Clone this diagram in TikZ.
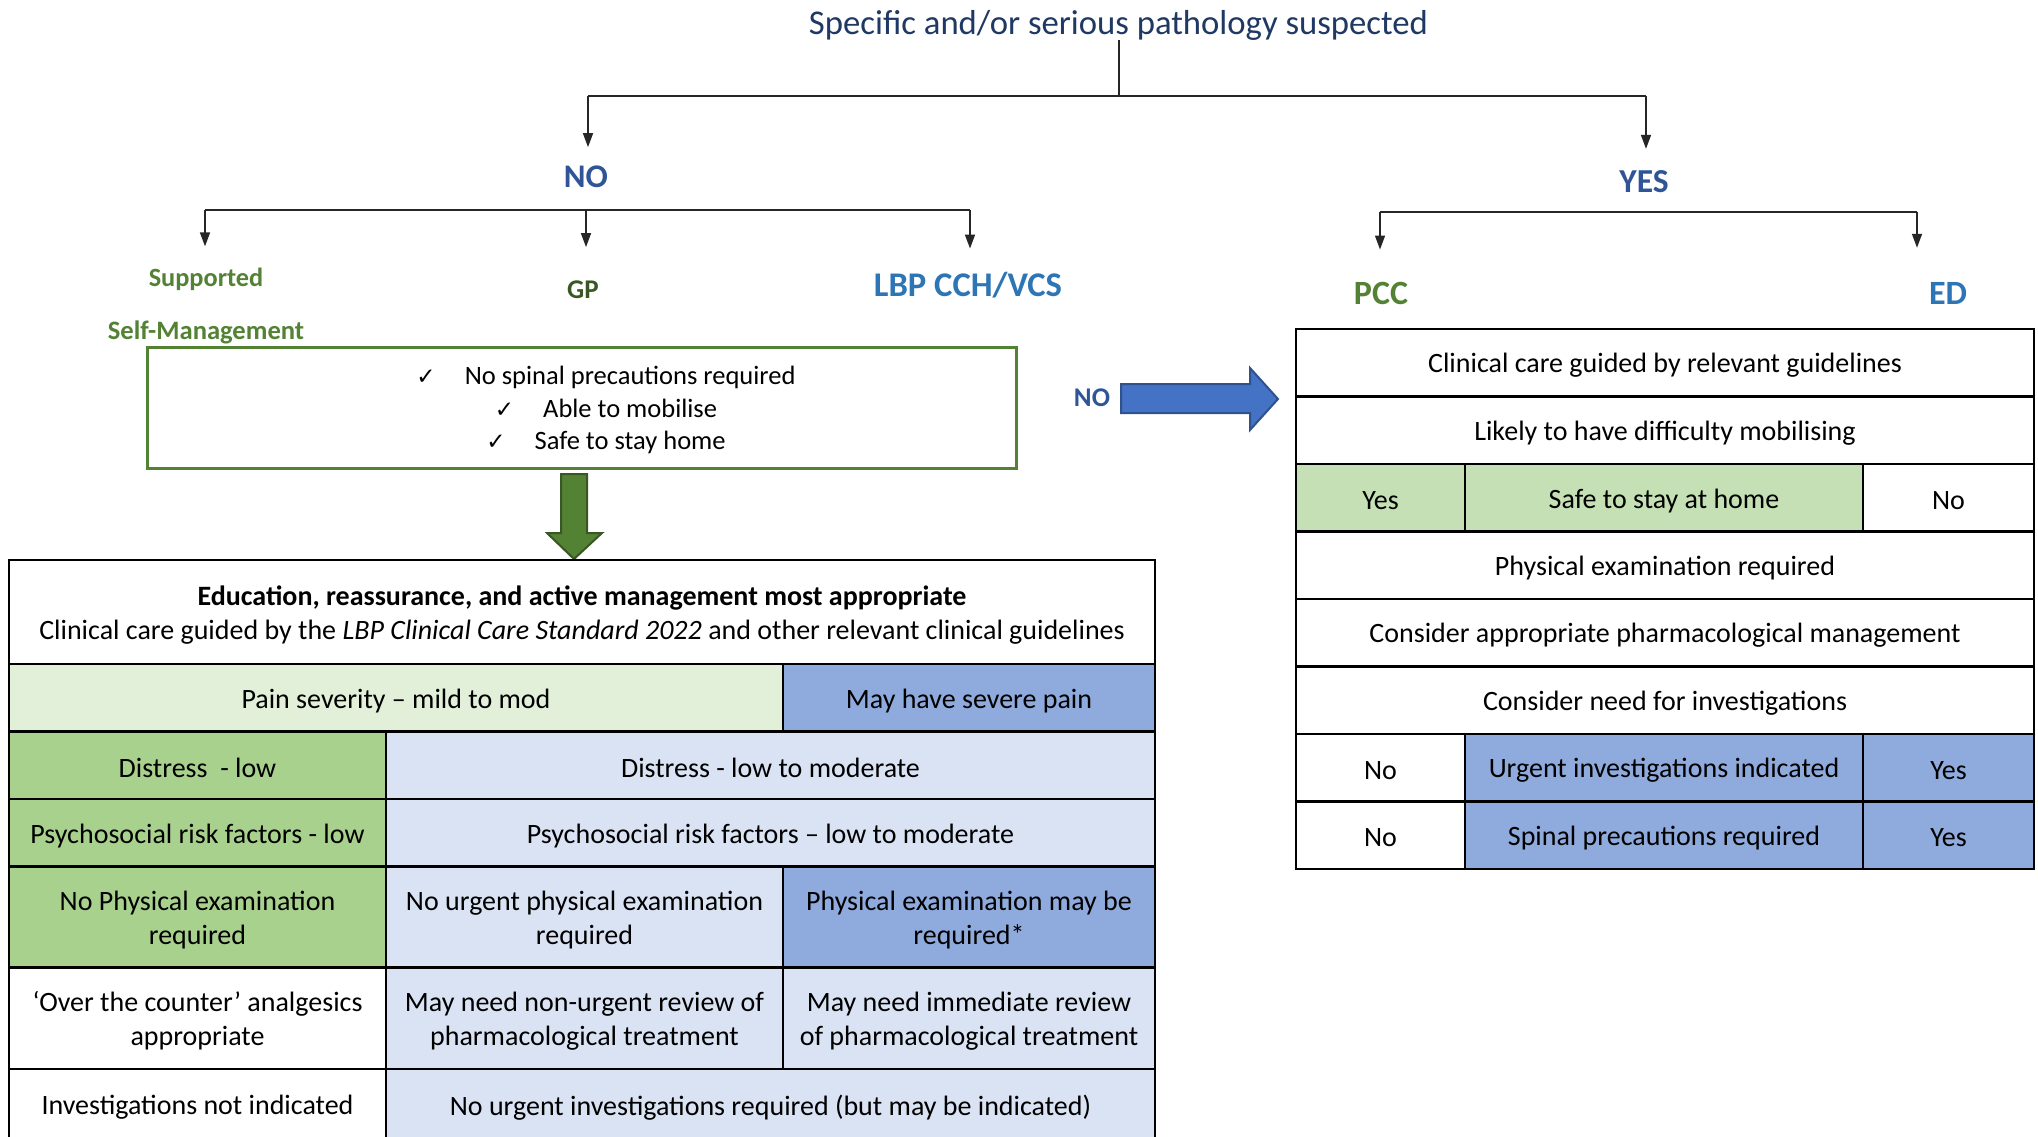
\documentclass[tikz,border=0pt]{standalone}
\usepackage{fontspec}
\setmainfont{Carlito}
\newfontfamily\symfont{DejaVu Sans}
\usetikzlibrary{arrows.meta}

\definecolor{titleblue}{HTML}{1F3864}
\definecolor{noblue}{HTML}{2F5597}
\definecolor{ltblue}{HTML}{2E75B6}
\definecolor{lblgreen}{HTML}{548235}
\definecolor{gpgreen}{HTML}{385723}
\definecolor{palegreen}{HTML}{E2EFD9}
\definecolor{midgreen}{HTML}{A9D18E}
\definecolor{rgreen}{HTML}{C5E0B4}
\definecolor{paleblue}{HTML}{DAE3F3}
\definecolor{midblue}{HTML}{8FAADC}
\definecolor{arrowblue}{HTML}{4472C4}
\definecolor{arrowblueedge}{HTML}{2F528F}
\definecolor{arrowgreenedge}{HTML}{385723}

\newcommand\fs[2]{\fontsize{#1pt}{#2pt}\selectfont}
\newcommand\mycell[7]{%
  \node[cellbox, fill=#6, minimum width={#4-#2}, minimum height={#5-#3}] (#1) at ({(#2+#4)/2},{(#3+#5)/2}) {};
  \node[celltext] (#1t) at ([yshift=-2.8pt]#1.center) {#7};}

\begin{document}
\begin{tikzpicture}[x=1pt,y=-1pt,
  cellbox/.style={draw=black, line width=2.6pt, inner sep=0pt},
  celltext/.style={inner sep=0pt, align=center, font=\fs{28}{34}},
  lbl/.style={inner sep=0pt, anchor=base},
  conn/.style={line width=1.6pt, draw=black!85},
  arr/.style={conn, -{Triangle[length=14pt,width=10pt]}},
  chkline/.style={inner sep=0pt, anchor=base, font=\fs{26.5}{32}},
  blockarrow/.style={line width=2pt, line join=miter}
]
\useasboundingbox (0,0) rectangle (2038,1136);
\fill[white] (0,0) rectangle (2038,1136);

% ---------- labels ----------
\node[lbl, font=\fs{34.7}{40}, text=titleblue] (title) at (1118.5,34) {Specific and/or serious pathology suspected};
\node[lbl, font=\fs{33}{40}\bfseries, text=noblue] (no) at (586,187) {NO};
\node[lbl, font=\fs{33.5}{40}\bfseries, text=noblue] (yes) at (1644,192) {YES};
\node[lbl, font=\fs{26.3}{32}\bfseries, text=lblgreen] (sup) at (206,286) {Supported};
\node[lbl, font=\fs{26.6}{32}\bfseries, text=lblgreen] (selfm) at (206,339) {Self-Management};
\node[lbl, font=\fs{27}{32}\bfseries, text=gpgreen] (gp) at (583,298) {GP};
\node[lbl, font=\fs{34.6}{40}\bfseries, text=ltblue] (lbp) at (968,296) {LBP CCH/VCS};
\node[lbl, font=\fs{34}{40}\bfseries, text=lblgreen] (pcc) at (1381,304) {PCC};
\node[lbl, font=\fs{34}{40}\bfseries, text=ltblue] (ed) at (1948,304) {ED};
\node[lbl, font=\fs{27}{32}\bfseries, text=noblue] (noarr) at (1092,406) {NO};

% ---------- tree connectors ----------
\coordinate (s1) at (1119,96);
\coordinate (sL) at (588,96);
\coordinate (sR) at (1646,96);
\draw[conn] (title.south -| s1) -- (s1);
\draw[conn] (sL) -- (sR);
\draw[arr, shorten >=18pt] (sL) -- (sL |- no.north);
\draw[arr, shorten >=21pt] (sR) -- (sR |- yes.north);

\coordinate (n1) at (205,210);
\coordinate (n2) at (586,210);
\coordinate (n3) at (970,210);
\draw[conn] (n1) -- (n3);
\draw[arr, shorten >=21pt] (n1) -- (n1 |- sup.north);
\draw[arr, shorten >=33pt] (n2) -- (n2 |- gp.north);
\draw[arr, shorten >=23pt] (n3) -- (n3 |- lbp.north);

\coordinate (y1) at (1380,212);
\coordinate (y2) at (1917,212);
\draw[conn] (y1) -- (y2);
\draw[arr, shorten >=32pt] (y1) -- (y1 |- pcc.north);
\draw[arr, shorten >=34pt] (y2) -- (y2 |- ed.north);

% ---------- self-management box ----------
\node[draw=lblgreen, line width=3pt, minimum width=869, minimum height=121, inner sep=0pt] (smbox) at (581.5,407.5) {};
\node[chkline] (chk1) at (606,384) {{\symfont\fs{23}{26}✓}\hspace{29pt}No spinal precautions required};
\node[chkline] (chk2) at (606,417) {{\symfont\fs{23}{26}✓}\hspace{29pt}Able to mobilise};
\node[chkline] (chk3) at (606,449) {{\symfont\fs{23}{26}✓}\hspace{29pt}Safe to stay home};

% ---------- block arrows ----------
\draw[blockarrow, fill=lblgreen, draw=arrowgreenedge]
  (561,474) -- (587,474) -- (587,533) -- (602,533) -- (574,559) -- (547,533) -- (561,533) -- cycle;
\draw[blockarrow, fill=arrowblue, draw=arrowblueedge]
  (1121,384) -- (1250,384) -- (1250,368) -- (1278,399) -- (1250,430) -- (1250,413) -- (1121,413) -- cycle;

% ---------- left table ----------
\mycell{lh}{9}{560}{1155}{664}{white}{{\bfseries Education, reassurance, and active management most appropriate}\\Clinical care guided by the \textit{LBP Clinical Care Standard 2022} and other relevant clinical guidelines}
\mycell{la1}{9}{664}{783}{731.5}{palegreen}{Pain severity – mild to mod}
\mycell{la2}{783}{664}{1155}{731.5}{midblue}{May have severe pain}
\mycell{lb1}{9}{731.5}{386}{799}{midgreen}{Distress~ - low}
\mycell{lb2}{386}{731.5}{1155}{799}{paleblue}{Distress - low to moderate}
\mycell{lc1}{9}{799}{386}{866.5}{midgreen}{Psychosocial risk factors - low}
\mycell{lc2}{386}{799}{1155}{866.5}{paleblue}{Psychosocial risk factors – low to moderate}
\mycell{ld1}{9}{866.5}{386}{967.5}{midgreen}{No Physical examination\\required}
\mycell{ld2}{386}{866.5}{783}{967.5}{paleblue}{No urgent physical examination\\required}
\mycell{ld3}{783}{866.5}{1155}{967.5}{midblue}{Physical examination may be\\required*}
\mycell{le1}{9}{967.5}{386}{1069}{white}{‘Over the counter’ analgesics\\appropriate}
\mycell{le2}{386}{967.5}{783}{1069}{paleblue}{May need non-urgent review of\\pharmacological treatment}
\mycell{le3}{783}{967.5}{1155}{1069}{paleblue}{May need immediate review\\of pharmacological treatment}
\mycell{lf1}{9}{1069}{386}{1140}{white}{Investigations not indicated}
\mycell{lf2}{386}{1069}{1155}{1140}{paleblue}{No urgent investigations required (but may be indicated)}

% ---------- right table ----------
\mycell{ra}{1296}{329}{2034}{396.5}{white}{Clinical care guided by relevant guidelines}
\mycell{rb}{1296}{396.5}{2034}{464}{white}{Likely to have difficulty mobilising}
\mycell{rc1}{1296}{464}{1465}{531.5}{rgreen}{Yes}
\mycell{rc2}{1465}{464}{1863}{531.5}{rgreen}{Safe to stay at home}
\mycell{rc3}{1863}{464}{2034}{531.5}{white}{No}
\mycell{rd}{1296}{531.5}{2034}{599}{white}{Physical examination required}
\mycell{re}{1296}{599}{2034}{666.5}{white}{Consider appropriate pharmacological management}
\mycell{rf}{1296}{666.5}{2034}{734}{white}{Consider need for investigations}
\mycell{rg1}{1296}{734}{1465}{801.5}{white}{No}
\mycell{rg2}{1465}{734}{1863}{801.5}{midblue}{Urgent investigations indicated}
\mycell{rg3}{1863}{734}{2034}{801.5}{midblue}{Yes}
\mycell{rh1}{1296}{801.5}{1465}{869}{white}{No}
\mycell{rh2}{1465}{801.5}{1863}{869}{midblue}{Spinal precautions required}
\mycell{rh3}{1863}{801.5}{2034}{869}{midblue}{Yes}
\end{tikzpicture}
\end{document}
